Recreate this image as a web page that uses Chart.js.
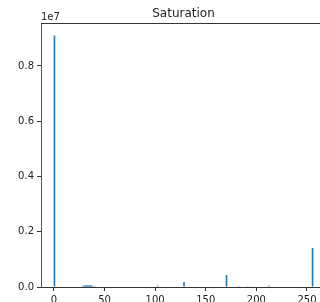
<!DOCTYPE html>
<html>
<head>
<meta charset="utf-8">
<script src="https://cdn.jsdelivr.net/npm/chart.js@4/dist/chart.umd.min.js"></script>
<style>
  html, body { margin: 0; padding: 0; overflow: hidden; background: #fff; }
  #wrap { width: 330px; height: 302px; }
</style>
</head>
<body>
<div id="wrap"><canvas id="satChart" width="330" height="302"></canvas></div>
<script>
// histogram bins that are not empty (saturation value -> pixel count)
const binValues = [0, 26, 27, 28, 29, 30, 31, 32, 33, 34, 35, 36, 37, 38, 39, 40, 41, 42, 43, 44, 45, 85, 102, 128, 170, 182, 191, 212, 255];
const binCounts = [9100000, 20000, 25000, 30000, 45000, 50000, 55000, 55000, 55000, 55000, 50000, 50000, 45000, 30000, 25000, 25000, 20000, 20000, 20000, 15000, 15000, 20000, 50000, 180000, 430000, 30000, 30000, 45000, 1410000];

const xTicks = [0, 50, 100, 150, 200, 250];
const yTicks = [0, 2000000, 4000000, 6000000, 8000000];
const xLimits = [-12.8, 268.8];
const yLimits = [0, 9555000];

const barColor = '#1f77b4';
const inkColor = '#222';

// matplotlib style bars: bin i covers [i, i+1]
let points = [];
for (let i = 0; i < binValues.length; i++) {
    points.push({ x: binValues[i] + 0.5, y: binCounts[i] });
}

// top spine, title and the 1e7 offset label
const frameExtras = {
    id: 'frameExtras',
    afterDraw(chart) {
        const ctx = chart.ctx;
        const area = chart.chartArea;
        ctx.save();
        ctx.strokeStyle = '#333';
        ctx.lineWidth = 1;
        ctx.beginPath();
        ctx.moveTo(area.left, area.top + 0.5);
        ctx.lineTo(area.right, area.top + 0.5);
        ctx.stroke();

        ctx.fillStyle = inkColor;
        ctx.font = '12px "DejaVu Sans"';
        ctx.textAlign = 'center';
        ctx.textBaseline = 'alphabetic';
        ctx.fillText('Saturation', (area.left + area.right) / 2, area.top - 6);

        ctx.font = '10px "DejaVu Sans"';
        ctx.textAlign = 'left';
        ctx.fillText('1e7', area.left, area.top - 3);
        ctx.restore();
    }
};

const ctx = document.getElementById('satChart').getContext('2d');
new Chart(ctx, {
    type: 'bar',
    data: {
        datasets: [{
            label: 'Saturation',
            data: points,
            backgroundColor: barColor,
            borderWidth: 0,
            barPercentage: 1.6,
            categoryPercentage: 1
        }]
    },
    options: {
        responsive: false,
        animation: false,
        layout: { padding: { left: 0, right: 4, top: 23, bottom: 0 } },
        plugins: {
            legend: { display: false },
            tooltip: { enabled: false }
        },
        scales: {
            x: {
                type: 'linear',
                offset: false,
                min: xLimits[0],
                max: xLimits[1],
                afterBuildTicks: (scale) => { scale.ticks = xTicks.map(v => ({ value: v })); },
                afterFit: (scale) => { scale.height = 15; },
                grid: { display: true, offset: false, drawOnChartArea: false, tickLength: 4, tickColor: '#333' },
                border: { display: true, color: '#333', width: 1 },
                ticks: {
                    color: inkColor,
                    padding: 3,
                    maxRotation: 0,
                    font: { family: 'DejaVu Sans', size: 10 }
                }
            },
            y: {
                min: yLimits[0],
                max: yLimits[1],
                afterBuildTicks: (scale) => { scale.ticks = yTicks.map(v => ({ value: v })); },
                afterFit: (scale) => { scale.width = 41; },
                grid: { display: true, drawOnChartArea: false, tickLength: 4, tickColor: '#333' },
                border: { display: true, color: '#555', width: 1 },
                ticks: {
                    color: inkColor,
                    padding: 3,
                    font: { family: 'DejaVu Sans', size: 10 },
                    callback: (value) => (value / 1e7).toFixed(1)
                }
            }
        }
    },
    plugins: [frameExtras]
});
</script>
</body>
</html>
